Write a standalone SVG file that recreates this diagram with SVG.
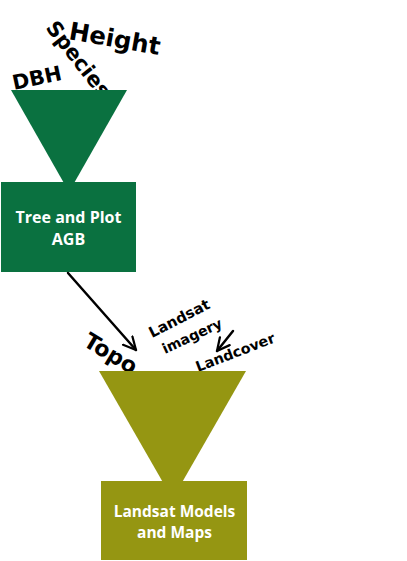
<svg xmlns="http://www.w3.org/2000/svg" width="407" height="561" viewBox="0 0 407 561">
<style>
.lbl{font-family:"DejaVu Sans","Open Sans",sans-serif;font-weight:bold;fill:#000}
.wt{font-family:"Open Sans","Liberation Sans",sans-serif;font-weight:bold;fill:#fff;text-anchor:middle}
.green{fill:#0a7140}
.olive{fill:#959612}
.conn{stroke:#000;stroke-width:2.5;fill:none;stroke-linecap:round;stroke-linejoin:round}
</style>
<defs>
<marker id="ah" viewBox="0 0 12 12" refX="11" refY="6" markerWidth="6" markerHeight="6" orient="auto" markerUnits="strokeWidth">
<path d="M1,1 L11,6 L1,11" fill="none" stroke="#000" stroke-width="1.8" stroke-linecap="round" stroke-linejoin="round"/>
</marker>
</defs>
<rect width="407" height="561" fill="#fff"/>
<g id="funnel-top">
<text class="lbl" font-size="20.5" transform="translate(14,90) rotate(-12)">DBH</text>
<text class="lbl" font-size="21" transform="translate(45,28) rotate(52)">Species</text>
<text class="lbl" font-size="24.5" transform="translate(68,39) rotate(10)">Height</text>
<polygon class="green" points="11,90 127,90 69,192"/>
</g>
<g id="tree-plot-agb">
<rect class="green" x="1" y="182" width="135" height="90"/>
<text class="wt" font-size="16" x="68.5" y="223">Tree and Plot</text>
<text class="wt" font-size="16" x="68.5" y="245">AGB</text>
</g>
<g id="funnel-bottom">
<text class="lbl" font-size="22" transform="translate(82,345) rotate(31)">Topo</text>
<text class="lbl" font-size="14.8" transform="translate(152,338) rotate(-27)">Landsat</text>
<text class="lbl" font-size="14" transform="translate(165,354) rotate(-25)">imagery</text>
<text class="lbl" font-size="14.3" transform="translate(198,372) rotate(-21)">Landcover</text>
<polygon class="olive" points="99,371 246,371 172.5,499"/>
</g>
<g id="landsat-models-maps">
<rect class="olive" x="101" y="481" width="146" height="79"/>
<text class="wt" font-size="15.5" x="174.5" y="517">Landsat Models</text>
<text class="wt" font-size="15.5" x="174.5" y="538">and Maps</text>
</g>
<g id="connectors">
<path class="conn" d="M68,273 L136,350" marker-end="url(#ah)"/>
<path class="conn" d="M233,331 L217,351" marker-end="url(#ah)"/>
</g>
</svg>
